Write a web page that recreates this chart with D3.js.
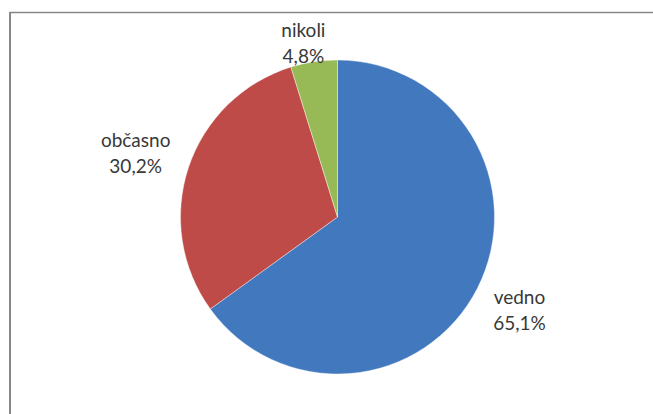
<!DOCTYPE html>
<html>
<head>
<meta charset="utf-8">
<script src="https://cdn.jsdelivr.net/npm/d3@7"></script>
<style>
  html, body { margin: 0; padding: 0; background: #fff; }
  text { font-family: Lato, "Open Sans", sans-serif; font-size: 19px; fill: #383838; }
</style>
</head>
<body>
<div id="chart"></div>
<script>
// slices, clockwise from 12 o'clock
const labels = ["vedno", "občasno", "nikoli"];
const shares = [65.1, 30.2, 4.8];
const colors = ["#4279BE", "#BE4B48", "#98BA56"];

const width = 653, height = 414;
const cx = 337.5, cy = 217, radius = 157;
const pad = 21, lineH = 26, minTop = 18;

const svg = d3.select("#chart").append("svg")
    .attr("width", width)
    .attr("height", height);

// chart border (only top + left edge visible in the crop)
svg.append("line")
    .attr("x1", 10).attr("y1", 12.5).attr("x2", width).attr("y2", 12.5)
    .attr("stroke", "#878787").attr("stroke-width", 1.5);
svg.append("line")
    .attr("x1", 10).attr("y1", 12).attr("x2", 10).attr("y2", height)
    .attr("stroke", "#878787").attr("stroke-width", 2);

const data = labels.map((l, i) => ({label: l, value: shares[i], color: colors[i]}));

const pie = d3.pie().sort(null).value(d => d.value);
const arc = d3.arc().innerRadius(0).outerRadius(radius);
const arcs = pie(data);

const g = svg.append("g").attr("transform", `translate(${cx},${cy})`);

g.selectAll("path")
  .data(arcs)
  .join("path")
    .attr("d", arc)
    .attr("fill", d => d.data.color)
    .attr("stroke", "#fff")
    .attr("stroke-width", 0.4);

const fmt = v => d3.format(".1f")(v).replace(".", ",") + "%";

// labels outside the pie, pushed out along the mid-angle
const lab = svg.append("g");
arcs.forEach(a => {
  const t = lab.append("text").attr("text-anchor", "middle");
  t.append("tspan").attr("x", 0).attr("dy", 0).text(a.data.label);
  t.append("tspan").attr("x", 0).attr("dy", lineH).text(fmt(a.data.value));
  const bb = t.node().getBBox();
  const hw = bb.width / 2, hh = bb.height / 2;
  const mid = (a.startAngle + a.endAngle) / 2;
  const sx = Math.sin(mid), sy = -Math.cos(mid);
  const R = radius + pad;
  let px = cx + R * sx, py = cy + R * sy;
  let bx = px + sx * hw, by = py + sy * hh;
  if (by - hh < minTop) {
    // slide back along the ray until the box fits under the top edge
    by = minTop + hh;
    py = by - sy * hh;
    px = cx + (py - cy) * (sx / sy);
    bx = px + sx * hw - 8;
  }
  const ox = bx - (bb.x + hw), oy = by - (bb.y + hh);
  t.attr("transform", `translate(${ox},${oy})`);
});
</script>
</body>
</html>
